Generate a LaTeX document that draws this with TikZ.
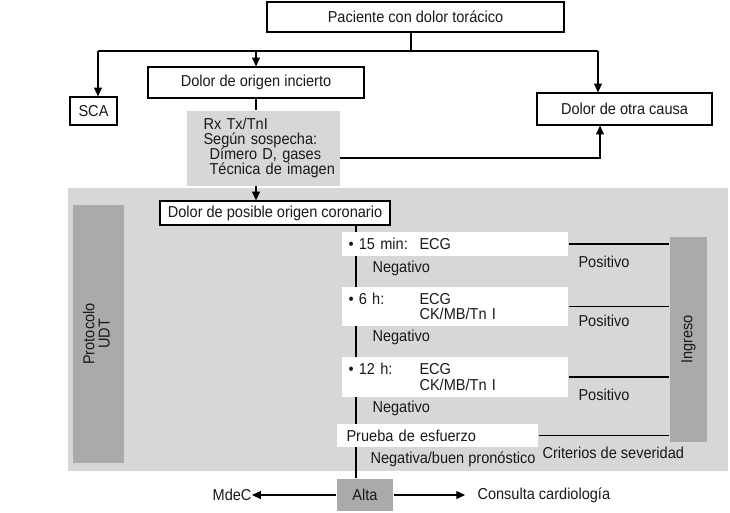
\documentclass[tikz,border=0pt]{standalone}
\usepackage{fontspec}
\setmainfont[FakeStretch=0.92]{Liberation Sans}
\usetikzlibrary{arrows.meta}
\definecolor{fondo}{HTML}{D5D7D9}
\definecolor{oscuro}{HTML}{A8AAAC}
\begin{document}
\begin{tikzpicture}[
        x=0.02cm, y=-0.02cm,
        line width=0.6pt,
        every node/.style={font=\fontsize{9}{8.6}\selectfont, inner sep=0pt, text=black!90},
        caja/.style={draw, line width=0.7pt, fill=white, align=center},
        blanca/.style={fill=white, anchor=west, align=left, inner xsep=0.14cm, text width=4.26cm,
          font=\fontsize{9}{8.9}\selectfont},
        columna/.style={fill=oscuro, align=center},
        etiq/.style={anchor=west},
        flecha/.style={-{Triangle[length=5pt,width=4.5pt]}}
      ]
      \useasboundingbox (0,0) rectangle (730,512);
      \fill[fondo] (68,188) rectangle (728,471);
      \node[caja, minimum width=5.94cm, minimum height=0.6cm] (pac) at (415.5,17) {Paciente con dolor torácico};
      \node[caja, minimum width=0.94cm, minimum height=0.56cm] (sca) at (93.5,111) {SCA};
      \node[caja, minimum width=4.32cm, minimum height=0.62cm] (inc) at (256,82.5) {Dolor de origen incierto};
      \node[caja, minimum width=3.5cm, minimum height=0.64cm] (otra) at (624.5,109) {Dolor de otra causa};
      \node[fill=fondo, anchor=north west, align=left, inner xsep=0.34cm, text width=2.38cm,
        minimum height=1.5cm, font=\fontsize{9}{8.6}\selectfont] (rx) at (186,110)
        {\mbox{Rx Tx/TnI}\\\mbox{Según sospecha:}\\\mbox{\hspace*{0.12cm}Dímero D, gases}\\\mbox{\hspace*{0.12cm}Técnica de imagen}};
      \node[caja, minimum width=4.6cm, minimum height=0.48cm] (coro) at (275,213) {Dolor de posible origen coronario};
      \node[columna, minimum width=1.02cm, minimum height=5.16cm] (udt) at (98.5,334)
        {\rotatebox{90}{\begin{tabular}{@{}c@{}}Protocolo\\UDT\end{tabular}}};
      \node[columna, minimum width=0.74cm, minimum height=4.1cm] (ing) at (688.5,339.5) {\rotatebox{90}{Ingreso}};
      \node[fill=oscuro, minimum width=1.12cm, minimum height=0.64cm] (alta) at (365,495) {Alta};
      \coordinate (eje) at (356,0);
      \draw (eje |- coro.south) -- (eje |- alta.north);
      \node[blanca, minimum height=0.48cm] (t15) at (341,244) {\makebox[1.42cm][l]{• 15 min:}ECG};
      \node[blanca, minimum height=0.78cm] (t6) at (341,306.5) {\makebox[1.42cm][l]{• 6 h:}ECG\\\makebox[1.42cm][l]{}CK/MB/Tn I};
      \node[blanca, minimum height=0.8cm] (t12) at (341,377) {\makebox[1.42cm][l]{• 12 h:}ECG\\\makebox[1.42cm][l]{}CK/MB/Tn I};
      \node[blanca, inner xsep=0.2cm, text width=3.64cm, minimum height=0.46cm] (pe) at (336,435.5) {Prueba de esfuerzo};
      \node[etiq] (neg1) at (372,268) {Negativo};
      \node[etiq] (neg2) at (372,337) {Negativo};
      \node[etiq] (neg3) at (372,408) {Negativo};
      \node[etiq] (negb) at (370,459) {Negativa/buen pronóstico};
      \node[etiq] (pos1) at (578,262) {Positivo};
      \node[etiq] (pos2) at (578,321) {Positivo};
      \node[etiq] (pos3) at (578,395) {Positivo};
      \node[etiq] (crit) at (542,453) {Criterios de severidad};
      \node[anchor=east] (mdec) at (252,495) {MdeC};
      \node[etiq] (cons) at (477,495) {Consulta cardiología};
      \coordinate (jl) at (98,51);
      \coordinate (jr) at (598,51);
      \coordinate (jp) at (411,51);
      \coordinate (ro) at (600,158);
      \draw (jp |- pac.south) -- (jp);
      \draw (jl) -- (jr);
      \draw[flecha] (jl) -- (jl |- sca.north);
      \draw[flecha] (inc.north |- jl) -- (inc.north);
      \draw[flecha] (jr) -- (jr |- otra.north);
      \draw (inc.south) -- (inc.south |- rx.north);
      \draw[flecha] (inc.south |- rx.south) -- (inc.south |- coro.north);
      \draw[flecha] (ro -| rx.east) -- (ro) -- (ro |- otra.south);
      \draw (t15.east) -- (t15.east -| ing.west);
      \draw (t6.east) -- (t6.east -| ing.west);
      \draw (t12.east) -- (t12.east -| ing.west);
      \draw (pe.east) -- (pe.east -| ing.west);
      \draw[flecha] (alta.west) -- (mdec.east);
      \draw[flecha, shorten >=6.8pt] (alta.east) -- (cons.west);
\end{tikzpicture}
\end{document}
